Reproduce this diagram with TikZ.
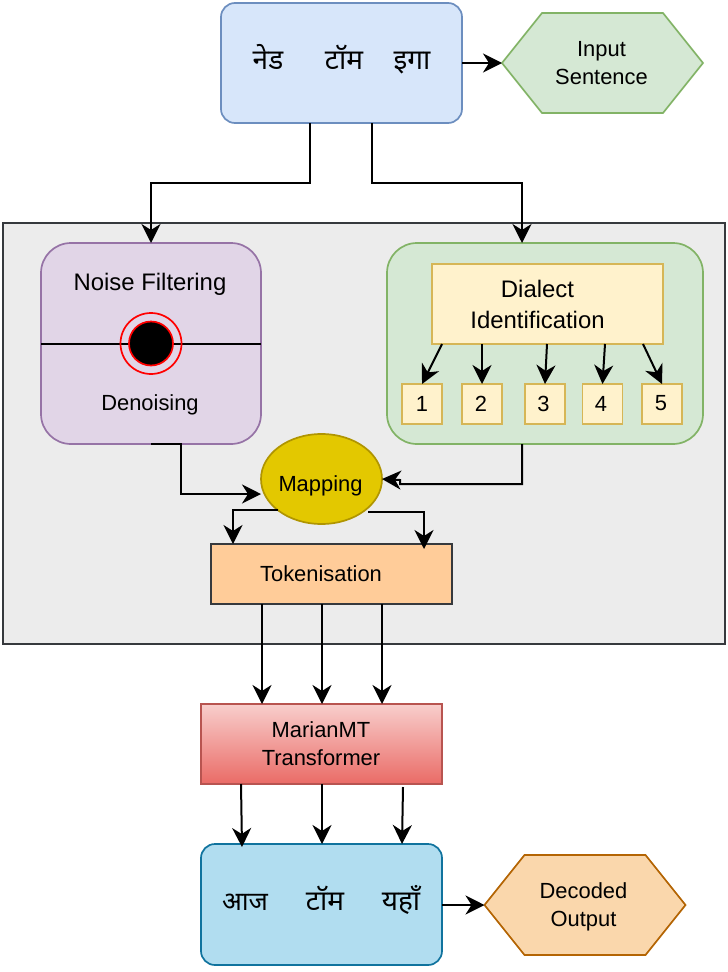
\documentclass[tikz,border=0pt]{standalone}
\usepackage{fontspec}
\usepackage{xcolor}
\setmainfont{Liberation Sans}
\newfontfamily\hindi[Script=Devanagari]{Noto Sans}
\usetikzlibrary{arrows.meta, shapes.geometric}

\definecolor{panelfill}{HTML}{ECECEC}
\definecolor{darkline}{HTML}{36393D}
\definecolor{bluefill}{HTML}{D7E6FA}
\definecolor{blueline}{HTML}{6C8EBF}
\definecolor{greenfill}{HTML}{D5E8D4}
\definecolor{greenline}{HTML}{82B366}
\definecolor{purplefill}{HTML}{E1D5E7}
\definecolor{purpleline}{HTML}{9673A6}
\definecolor{yellowfill}{HTML}{FFF2CC}
\definecolor{yellowline}{HTML}{D6B656}
\definecolor{mapfill}{HTML}{E3C800}
\definecolor{mapline}{HTML}{B09500}
\definecolor{tokfill}{HTML}{FFCC99}
\definecolor{redtop}{HTML}{F8CECC}
\definecolor{redbottom}{HTML}{EA6B66}
\definecolor{redline}{HTML}{B85450}
\definecolor{cyanfill}{HTML}{B1DDF0}
\definecolor{cyanline}{HTML}{10739E}
\definecolor{orangefill}{HTML}{FAD7AC}
\definecolor{orangeline}{HTML}{B46504}

\newcommand{\hexline}[2]{%
    \draw[line width=1.7pt, #2] (#1.west) -- ([xshift=40pt]#1.north west) -- ([xshift=-40pt]#1.north east)
        -- (#1.east) -- ([xshift=-40pt]#1.south east) -- ([xshift=40pt]#1.south west) -- cycle;}

\begin{document}
\begin{tikzpicture}[x=1pt, y=-1pt, >={Stealth[length=19pt, width=19pt, inset=6pt]},
    base/.style={draw, line width=1.7pt, inner sep=0pt, outer sep=0pt},
    txt/.style={inner sep=0pt, align=center, font=\fontsize{21.9}{28}\selectfont},
    bigtxt/.style={inner sep=0pt, align=center, font=\fontsize{23.9}{31}\selectfont},
    word/.style={inner sep=0pt, anchor=base, font=\hindi\fontsize{28}{30}\selectfont},
    hexa/.style={inner sep=0pt, outer sep=0pt, minimum width=201pt, minimum height=100pt, align=center},
    link/.style={->, line width=2pt}]
    \useasboundingbox (0,0) rectangle (728,972);

    % 1. Panel
    \node[base, draw=darkline, fill=panelfill, minimum width=722pt, minimum height=421pt] (panel) at (364,433.5) {};

    % 2. Input
    \node[base, draw=blueline, fill=bluefill, rounded corners=14pt, minimum width=241pt, minimum height=120pt] (top) at (341.5,63) {};
    \node[word] (ned) at (268,69) {नेड};
    \node[word] (tom) at (344,69) {टॉम};
    \node[word] (iga) at (412,69) {इगा};
    \node[hexa] (input) at (602.5,63) {};
    \hexline{input}{draw=greenline, fill=greenfill}
    \node[txt] (inputtxt) at (601.5,63) {Input\\Sentence};
    \draw[link] (top.east) -- (input.west);

    % 3. Noise filtering
    \node[base, draw=purpleline, fill=purplefill, rounded corners=30pt, minimum width=220pt, minimum height=201pt] (noise) at (151,343.5) {};
    \node[bigtxt] (noisetxt) at (150,284) {Noise Filtering};
    \node[txt] (denoise) at (150,405) {Denoising};
    \draw[line width=2pt] (noise.west) -- (noise.east);
    \node[base, circle, draw=red, minimum size=61pt] (ring) at (noise.center) {};
    \node[base, circle, draw=red, fill=black, minimum size=44pt] (dot) at (noise.center) {};

    % 4. Dialect identification
    \node[base, draw=greenline, fill=greenfill, rounded corners=30pt, minimum width=316pt, minimum height=201pt] (dialectbox) at (545,343.5) {};
    \node[base, draw=yellowline, fill=yellowfill, minimum width=231pt, minimum height=80pt] (dialect) at (547.5,304) {};
    \node[bigtxt] (dialecttxt) at (537.5,304.5) {Dialect\\Identification};
    \foreach \i/\x/\s/\n in {1/422/-105.5/422, 2/482/-65.5/481, 3/545/-0.5/543.5, 4/602.5/57.5/601, 5/662/95.5/661} {
        \node[base, draw=yellowline, fill=yellowfill, minimum size=40pt] (d\i) at (\x,404) {};
        \node[txt] (n\i) at (\n,403.5) {\i};
        \draw[link] ([xshift=\s pt]dialect.south) -- (d\i.north);
    }

    % 5. Mapping and tokenisation
    \node[base, ellipse, draw=mapline, fill=mapfill, minimum width=121pt, minimum height=90pt] (map) at (321.5,479) {};
    \node[txt] (maptxt) at (320.5,486) {Mapping};
    \node[base, draw=darkline, fill=tokfill, minimum width=241pt, minimum height=60pt] (tok) at (331.5,574) {};
    \node[txt] (toktxt) at (321,574) {Tokenisation};

    % 6. MarianMT
    \node[base, draw=redline, top color=redtop, bottom color=redbottom, minimum width=241pt, minimum height=80pt] (marian) at (321.5,744) {};
    \node[txt] (mariantxt) at (321,744) {MarianMT\\Transformer};

    % 7. Output
    \node[base, draw=cyanline, fill=cyanfill, rounded corners=14pt, minimum width=241pt, minimum height=121pt] (out) at (321.5,904.5) {};
    \node[word, font=\hindi\fontsize{26}{30}\selectfont] (aaj) at (245,910) {आज};
    \node[word] (tom2) at (325,910) {टॉम};
    \node[word] (yaha) at (401,910) {यहाँ};
    \node[hexa] (decoded) at (585,905) {};
    \hexline{decoded}{draw=orangeline, fill=orangefill}
    \node[txt] (decodedtxt) at (583.5,907) {Decoded\\Output};
    \draw[link] ([yshift=-0.5pt]out.east) -- (decoded.west);

    % 8. Connectors
    \draw[link] ([xshift=-31.5pt]top.south) -- ++(0,60) -| (noise.north);
    \draw[link] ([xshift=30.5pt]top.south) -- ++(0,60) -| ([xshift=-23pt]dialectbox.north);
    \draw[link] (noise.south) -- ++(30,0) -- ++(0,50) -- ([yshift=-15pt]map.west);
    \draw[link] ([xshift=-23pt]dialectbox.south) -- ++(0,40) -- ++(-122,0) -- ++(0,-4) -- (map.east);
    \draw[link] ([xshift=-43.5pt,yshift=-31pt]map.center) -| ([xshift=-98.5pt]tok.north);
    \draw[link] ([xshift=46.5pt,yshift=-33pt]map.center) -| ([xshift=92.5pt,yshift=-5pt]tok.north);
    \foreach \s/\t in {-69.5/-59.5, -9.5/0.5, 50.5/60.5} {
        \draw[link] ([xshift=\s pt]tok.south) -- ([xshift=\t pt]marian.north);
    }
    \draw[link] ([xshift=-80.5pt]marian.south) -- ([xshift=-79.5pt,yshift=-3pt]out.north);
    \draw[link] ([xshift=0.5pt]marian.south) -- ([xshift=0.5pt]out.north);
    \draw[link] ([xshift=81.5pt,yshift=-3pt]marian.south) -- ([xshift=80.5pt]out.north);
\end{tikzpicture}
\end{document}
